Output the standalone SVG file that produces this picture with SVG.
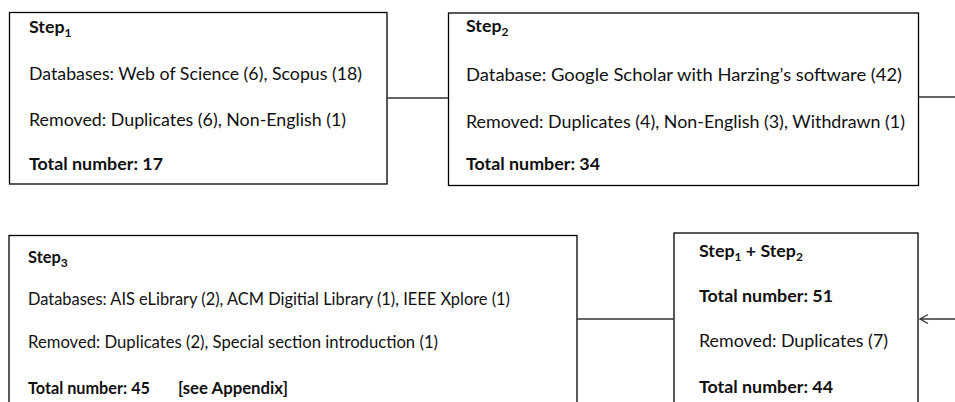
<svg xmlns="http://www.w3.org/2000/svg" width="955" height="402" viewBox="0 0 955 402">
<style>
.box{fill:#fff;stroke:#000;stroke-width:1.3}
.t{font-family:Lato,"Open Sans","Liberation Sans",sans-serif;font-size:17.8px;fill:#111}
.s{font-size:16.4px}
.b{font-weight:bold}
.sub{font-size:12px}
.con{fill:none;stroke:#333;stroke-width:1.4}
</style>
<defs>
<marker id="arr" markerWidth="12" markerHeight="12" refX="9" refY="6" orient="auto" markerUnits="userSpaceOnUse">
<path d="M1,1.5 L9,6 L1,10.5" fill="none" stroke="#333" stroke-width="1.3"/>
</marker>
</defs>
<g id="step1">
<rect class="box" x="9.5" y="12.5" width="377.5" height="171.5"/>
<text class="t b" x="29" y="33">Step<tspan class="sub" dy="4">1</tspan></text>
<text class="t" x="29" y="80" textLength="333" lengthAdjust="spacingAndGlyphs">Databases: Web of Science (6), Scopus (18)</text>
<text class="t" x="29" y="126" textLength="317" lengthAdjust="spacingAndGlyphs">Removed: Duplicates (6), Non-English (1)</text>
<text class="t b" x="29" y="170" textLength="134" lengthAdjust="spacingAndGlyphs">Total number: 17</text>
</g>
<g id="step2">
<rect class="box" x="448.5" y="13" width="470" height="172.5"/>
<text class="t b" x="466" y="32">Step<tspan class="sub" dy="4">2</tspan></text>
<text class="t" x="466" y="81" textLength="436" lengthAdjust="spacingAndGlyphs">Database: Google Scholar with Harzing’s software (42)</text>
<text class="t" x="466" y="128" textLength="439" lengthAdjust="spacingAndGlyphs">Removed: Duplicates (4), Non-English (3), Withdrawn (1)</text>
<text class="t b" x="466" y="170" textLength="134" lengthAdjust="spacingAndGlyphs">Total number: 34</text>
</g>
<g id="step3">
<rect class="box" x="9" y="235.5" width="568" height="180"/>
<text class="t s b" x="28" y="263">Step<tspan class="sub" dy="4">3</tspan></text>
<text class="t s" x="28" y="305" textLength="482" lengthAdjust="spacingAndGlyphs">Databases: AIS eLibrary (2), ACM Digitial Library (1), IEEE Xplore (1)</text>
<text class="t s" x="28" y="348" textLength="410" lengthAdjust="spacingAndGlyphs">Removed: Duplicates (2), Special section introduction (1)</text>
<text class="t s b" x="28" y="394" textLength="122" lengthAdjust="spacingAndGlyphs">Total number: 45</text>
<text class="t s b" x="178" y="394" textLength="110" lengthAdjust="spacingAndGlyphs">[see Appendix]</text>
</g>
<g id="step12">
<rect class="box" x="674" y="233" width="244" height="182"/>
<text class="t b" x="699" y="257">Step<tspan class="sub" dy="4">1</tspan><tspan dy="-4"> + Step</tspan><tspan class="sub" dy="4">2</tspan></text>
<text class="t b" x="699" y="302" textLength="134" lengthAdjust="spacingAndGlyphs">Total number: 51</text>
<text class="t" x="699" y="347" textLength="189" lengthAdjust="spacingAndGlyphs">Removed: Duplicates (7)</text>
<text class="t b" x="699" y="393" textLength="134" lengthAdjust="spacingAndGlyphs">Total number: 44</text>
</g>
<g id="connectors">
<line class="con" x1="387" y1="98" x2="448.5" y2="98"/>
<line class="con" x1="918.5" y1="97" x2="955" y2="97"/>
<line class="con" x1="577" y1="319" x2="674" y2="319"/>
<line class="con" x1="955" y1="319" x2="920" y2="319" marker-end="url(#arr)"/>
</g>
</svg>
